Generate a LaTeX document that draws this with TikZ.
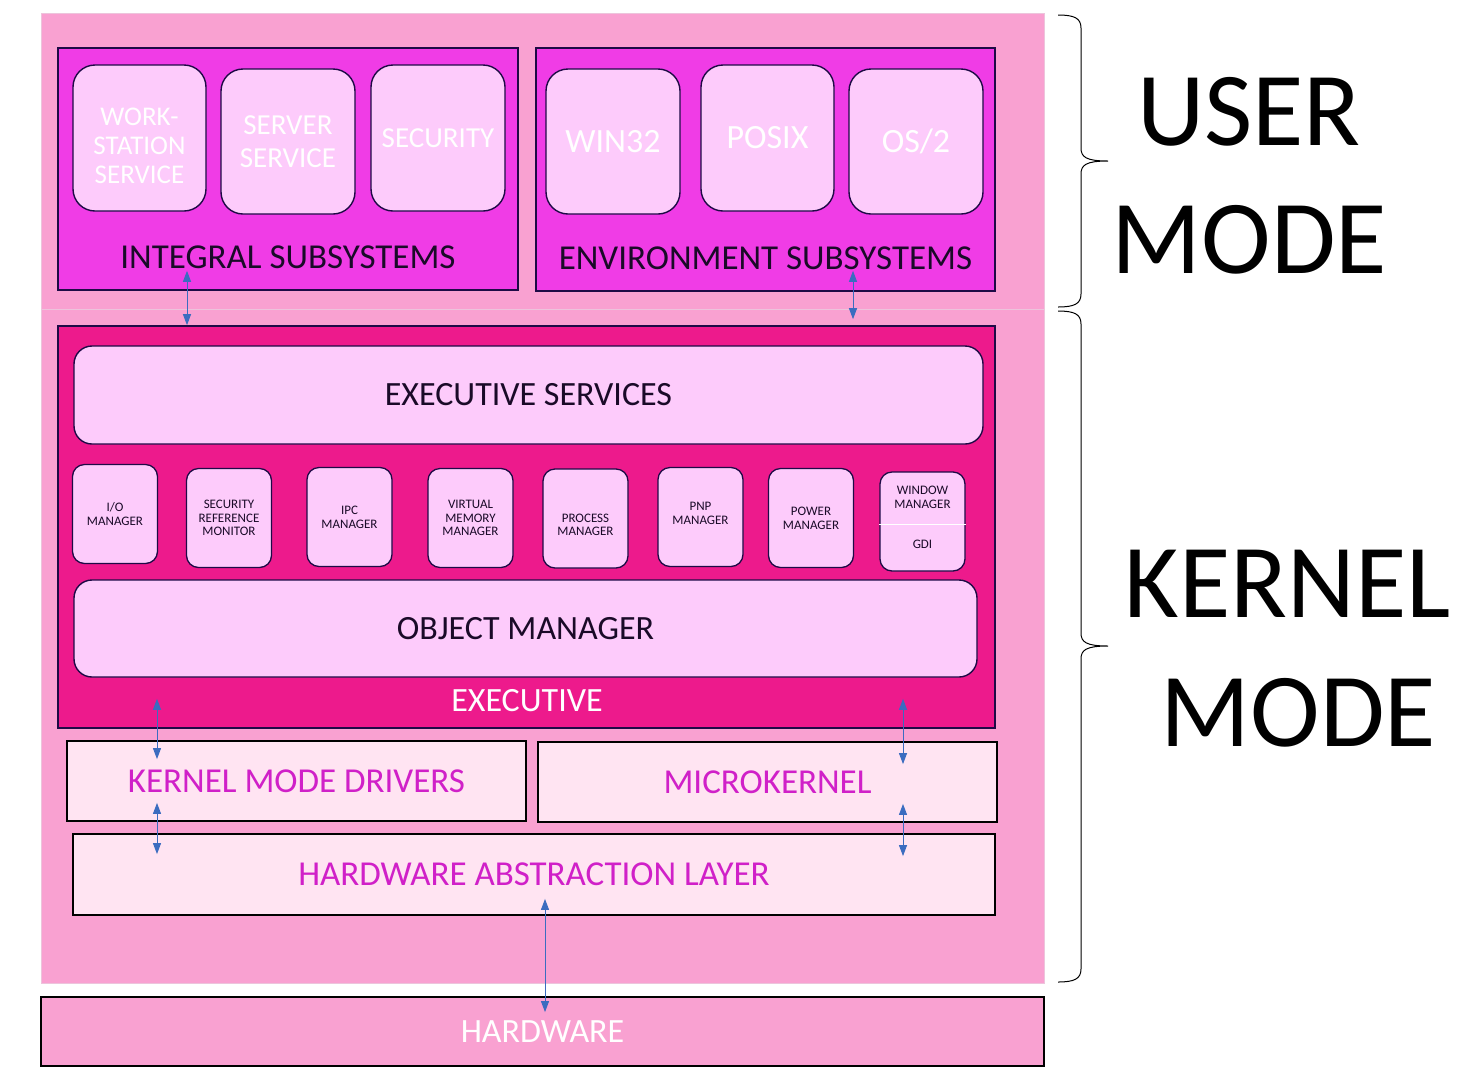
\documentclass[tikz,border=0pt]{standalone}
\usepackage{fontspec}
\setmainfont{Carlito}
\usetikzlibrary{arrows.meta}

\definecolor{pinkbg}{HTML}{F9A1D1}
\definecolor{edgepink}{HTML}{EDC4DC}
\definecolor{magbox}{HTML}{F03CE6}
\definecolor{lite}{HTML}{FDCBFB}
\definecolor{execpink}{HTML}{ED1A8C}
\definecolor{pale}{HTML}{FFE4F2}
\definecolor{magtext}{HTML}{D020C8}
\definecolor{navy}{HTML}{1E0A46}
\definecolor{darktext}{HTML}{1A0A28}
\definecolor{arrowblue}{HTML}{3B6CC0}

\begin{document}
\begin{tikzpicture}[x=1pt,y=-1pt,
    region/.style={draw=edgepink, line width=1pt, fill=pinkbg, inner sep=0pt},
    subsys/.style={draw=navy, line width=1.6pt, fill=magbox, inner sep=0pt},
    svc/.style={draw=navy, line width=1.4pt, fill=lite, rounded corners=22pt, text=white, align=center, inner sep=0pt},
    title/.style={text=darktext, font=\fontsize{35}{40}\selectfont, inner sep=0pt},
    execbox/.style={draw=navy, line width=1.6pt, fill=execpink, inner sep=0pt},
    svcbar/.style={draw=navy, line width=1.4pt, fill=lite, rounded corners=18pt, text=darktext, font=\fontsize{34}{38}\selectfont, inner sep=0pt},
    mgr/.style={draw=navy, line width=1.3pt, fill=lite, rounded corners=12pt, minimum width=85, minimum height=99, text=darktext, align=center, font=\fontsize{13}{13.8}\selectfont, inner sep=0pt},
    mgrtxt/.style={text=darktext, align=center, font=\fontsize{13}{13.8}\selectfont, inner sep=0pt},
    lower/.style={draw=black, line width=1.8pt, fill=pale, text=magtext, font=\fontsize{35}{40}\selectfont, inner sep=0pt},
    hwbox/.style={draw=black, line width=1.8pt, fill=pinkbg, text=white, font=\fontsize{34}{38}\selectfont, inner sep=0pt},
    mode/.style={text=black, font=\fontsize{105}{110}\selectfont, inner sep=0pt},
    link/.style={draw=arrowblue, line width=1pt, {Triangle[width=8pt,length=11pt]}-{Triangle[width=8pt,length=11pt]}}]

    \fill[white] (0,0) rectangle (1473,1080);
    \useasboundingbox (0,0) rectangle (1473,1080);

    % user and kernel regions
    \node[region, minimum width=1003, minimum height=296] (usr) at (542.5,161) {};
    \node[region, minimum width=1003, minimum height=674] (krn) at (542.5,646) {};

    % integral subsystems
    \node[subsys, minimum width=460, minimum height=242] (integ) at (288,169) {};
    \node[svc, minimum width=133, minimum height=146, font=\fontsize{27}{29}\selectfont] (ws) at (139.5,138) {WORK-\rule{0pt}{33pt}\\STATION\\SERVICE};
    \node[svc, minimum width=134, minimum height=145, font=\fontsize{29}{33}\selectfont] (srv) at (288,141.5) {SERVER\\SERVICE};
    \node[svc, minimum width=134, minimum height=146, font=\fontsize{29}{33}\selectfont] (sec) at (438,138) {SECURITY};
    \node[title] (intlbl) at (288,257) {INTEGRAL SUBSYSTEMS};

    % environment subsystems
    \node[subsys, minimum width=459, minimum height=243] (env) at (765.5,169.5) {};
    \node[svc, minimum width=134, minimum height=145, font=\fontsize{34}{38}\selectfont] (win32) at (613,141.5) {WIN32};
    \node[svc, minimum width=133, minimum height=146, font=\fontsize{34}{38}\selectfont] (posix) at (767.5,138) {POSIX};
    \node[svc, minimum width=134, minimum height=145, font=\fontsize{34}{38}\selectfont] (os2) at (916,141.5) {OS/2};
    \node[title] (envlbl) at (765.5,258) {ENVIRONMENT SUBSYSTEMS};

    % executive
    \node[execbox, minimum width=937, minimum height=402] (exec) at (526.5,527) {};
    \node[svcbar, minimum width=909, minimum height=98] (es) at (528.5,395) {EXECUTIVE SERVICES};
    \node[mgr] (io) at (115,514) {I/O\\MANAGER};
    \node[mgr] (srm) at (229,518) {SECURITY\\REFERENCE\\MONITOR};
    \node[mgr] (ipc) at (349.5,517) {IPC\\MANAGER};
    \node[mgr] (vmm) at (470.5,518) {VIRTUAL\\MEMORY\\MANAGER};
    \node[mgr] (pm) at (585.5,518.5) {PROCESS\rule{0pt}{21pt}\\MANAGER};
    \node[mgr] (pnp) at (700.5,517) {PNP\\MANAGER\rule[-8pt]{0pt}{8pt}};
    \node[mgr] (pwr) at (811,518) {POWER\\MANAGER};
    \node[mgr] (wm) at (922.5,521.5) {};
    \draw[white, line width=1pt] ([yshift=-2.5pt]wm.west) -- ([yshift=-2.5pt]wm.east);
    \node[mgrtxt] (wmtxt) at (922.5,497) {WINDOW\\MANAGER};
    \node[mgrtxt] (gdi) at (922.5,544) {GDI};
    \node[svcbar, minimum width=903, minimum height=97] (om) at (525.5,628.5) {OBJECT MANAGER};
    \node[text=white, font=\fontsize{34}{38}\selectfont, inner sep=0pt] (execlbl) at (527,701) {EXECUTIVE};

    % lower layers
    \node[lower, minimum width=459, minimum height=80] (kmd) at (296.5,781) {KERNEL MODE DRIVERS};
    \node[lower, minimum width=459, minimum height=80] (mk) at (767.5,782) {MICROKERNEL};
    \node[lower, minimum width=922, minimum height=81] (hal) at (534,874.5) {HARDWARE ABSTRACTION LAYER};
    \node[hwbox, minimum width=1003, minimum height=69] (hw) at (542.5,1031.5) {HARDWARE};

    % connectors
    \draw[link] ([xshift=-101pt,yshift=20pt]integ.south) coordinate (a1) -- (a1 |- exec.north);
    \draw[link] ([xshift=87.5pt,yshift=21pt]env.south) coordinate (a2) -- ([yshift=6pt]a2 |- exec.north);
    \draw[link] ([xshift=-369.5pt,yshift=30pt]exec.south) coordinate (a3) -- ([yshift=-19pt]a3 |- kmd.north);
    \draw[link] ([xshift=376.5pt,yshift=30pt]exec.south) coordinate (a4) -- ([yshift=-23pt]a4 |- mk.north);
    \draw[link] ([xshift=-139.5pt,yshift=19pt]kmd.south) coordinate (a5) -- ([yshift=-21pt]a5 |- hal.north);
    \draw[link] ([xshift=135.5pt,yshift=19pt]mk.south) coordinate (a6) -- ([yshift=-23pt]a6 |- hal.north);
    \draw[link] ([xshift=11pt,yshift=17pt]hal.south) coordinate (a7) -- ([yshift=-16pt]a7 |- hw.north);

    % braces
    \foreach \a/\m/\b in {15/161/307, 311/646/982}
        \draw[line width=1pt] (1058,\a) .. controls (1074,\a) and (1081,\a+3) .. (1081,\a+13) -- (1081,\m-13)
            .. controls (1081,\m-4) and (1086,\m) .. (1108,\m)
            .. controls (1086,\m) and (1081,\m+4) .. (1081,\m+13) -- (1081,\b-13)
            .. controls (1081,\b-3) and (1074,\b) .. (1058,\b);

    % mode labels
    \node[mode, anchor=base] (user) at (1249,145) {USER};
    \node[mode, anchor=base] (umode) at (1249.5,273) {MODE};
    \node[mode, anchor=base] (kernel) at (1287.5,617) {KERNEL};
    \node[mode, anchor=base] (kmode) at (1298.5,746) {MODE};
\end{tikzpicture}
\end{document}
